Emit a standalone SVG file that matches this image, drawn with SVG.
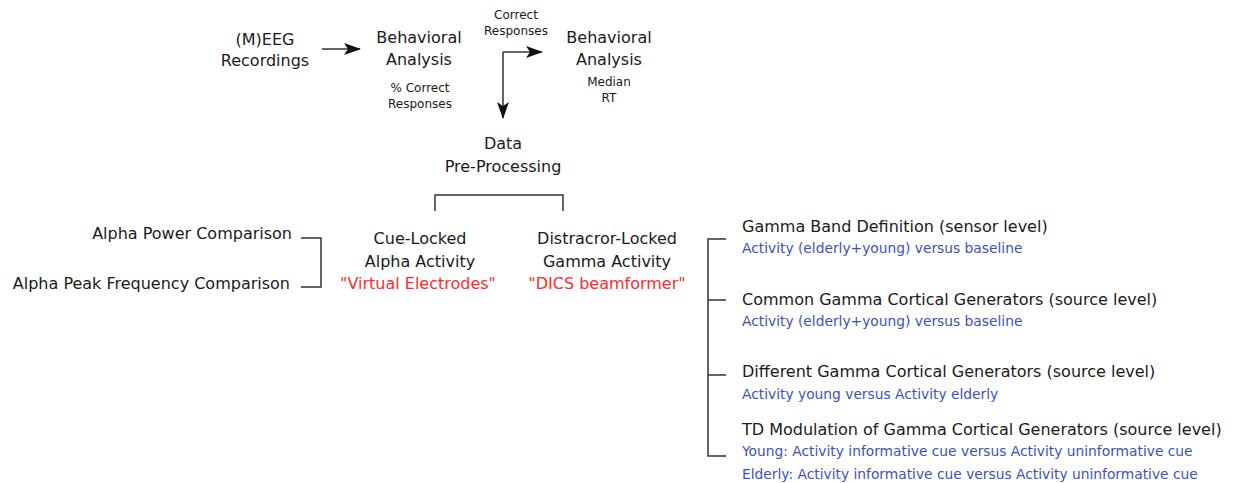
<svg xmlns="http://www.w3.org/2000/svg" width="1236" height="483" viewBox="0 0 1236 483">
<style>
text{font-family:"DejaVu Sans",Verdana,sans-serif;fill:#1a1a1a}
.b{font-size:16px}
.s{font-size:12px}
.c{text-anchor:middle}
.e{text-anchor:end}
.r{fill:#ff2a2a}
.u{fill:#3d50c0;font-size:13.8px}
.ln{fill:none;stroke:#333;stroke-width:1.5}
</style>
<defs>
<marker id="ah" viewBox="0 0 17 12" refX="16" refY="6" markerWidth="17" markerHeight="12" markerUnits="userSpaceOnUse" orient="auto">
<path d="M0,0 L17,6 L0,12 L4,6 Z" fill="#111"/>
</marker>
</defs>
<rect width="1236" height="483" fill="#fff"/>
<g id="connectors">
<line class="ln" x1="322" y1="49" x2="360" y2="49" marker-end="url(#ah)"/>
<polyline class="ln" points="503,52 503,118" marker-end="url(#ah)"/>
<polyline class="ln" points="503,52 542,52" marker-end="url(#ah)"/>
<polyline class="ln" points="435,211 435,195 563,195 563,211"/>
<polyline class="ln" points="301,238 321,238 321,287 301,287"/>
<polyline class="ln" points="726,239 708,239 708,456 726,456"/>
<line class="ln" x1="708" y1="300" x2="726" y2="300"/>
<line class="ln" x1="708" y1="375" x2="726" y2="375"/>
</g>
<g id="meeg"><text class="b c" x="265" y="45">(M)EEG</text><text class="b c" x="265" y="66">Recordings</text></g>
<g id="behav1"><text class="b c" x="419" y="43">Behavioral</text><text class="b c" x="419" y="65">Analysis</text>
<text class="s c" x="420" y="92">% Correct</text><text class="s c" x="420" y="108">Responses</text></g>
<g id="correct"><text class="s c" x="516" y="19">Correct</text><text class="s c" x="516" y="35">Responses</text></g>
<g id="behav2"><text class="b c" x="609" y="43">Behavioral</text><text class="b c" x="609" y="65">Analysis</text>
<text class="s c" x="609" y="86">Median</text><text class="s c" x="609" y="102">RT</text></g>
<g id="preproc"><text class="b c" x="503" y="149">Data</text><text class="b c" x="503" y="172">Pre-Processing</text></g>
<g id="cue"><text class="b c" x="420" y="244">Cue-Locked</text><text class="b c" x="420" y="267">Alpha Activity</text><text class="b c r" x="418" y="289">"Virtual Electrodes"</text></g>
<g id="distr"><text class="b c" x="607" y="244">Distracror-Locked</text><text class="b c" x="607" y="267">Gamma Activity</text><text class="b c r" x="607" y="289">"DICS beamformer"</text></g>
<g id="alpha"><text class="b e" x="292" y="239">Alpha Power Comparison</text><text class="b e" x="290" y="289">Alpha Peak Frequency Comparison</text></g>
<g id="g1"><text class="b" x="742" y="232">Gamma Band Definition (sensor level)</text><text class="u" x="742" y="253">Activity (elderly+young) versus baseline</text></g>
<g id="g2"><text class="b" x="742" y="305">Common Gamma Cortical Generators (source level)</text><text class="u" x="742" y="326">Activity (elderly+young) versus baseline</text></g>
<g id="g3"><text class="b" x="742" y="377">Different Gamma Cortical Generators (source level)</text><text class="u" x="742" y="399">Activity young versus Activity elderly</text></g>
<g id="g4"><text class="b" x="742" y="435">TD Modulation of Gamma Cortical Generators (source level)</text><text class="u" x="742" y="456">Young: Activity informative cue versus Activity uninformative cue</text><text class="u" x="742" y="479">Elderly: Activity informative cue versus Activity uninformative cue</text></g>
</svg>
